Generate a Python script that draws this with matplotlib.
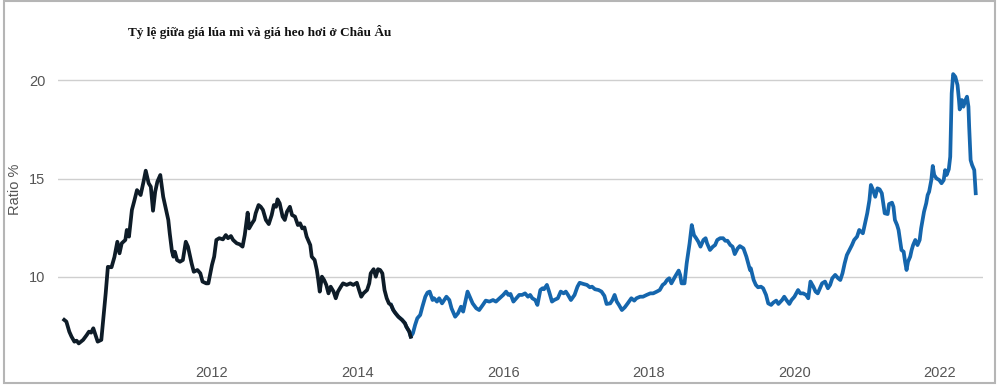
import numpy as np
import matplotlib
matplotlib.use("Agg")
import matplotlib.pyplot as plt
from matplotlib.patches import Rectangle

years = [
    2009.97, 2010.00, 2010.04, 2010.07, 2010.11, 2010.14, 2010.17, 2010.23, 2010.28, 2010.31,
    2010.34, 2010.37, 2010.40, 2010.43, 2010.48, 2010.51, 2010.54, 2010.57, 2010.62, 2010.66,
    2010.70, 2010.73, 2010.76, 2010.81, 2010.83, 2010.86, 2010.90, 2010.93, 2010.97, 2011.02,
    2011.06, 2011.09, 2011.13, 2011.16, 2011.19, 2011.22, 2011.25, 2011.29, 2011.33, 2011.40,
    2011.42, 2011.45, 2011.47, 2011.49, 2011.52, 2011.56, 2011.60, 2011.64, 2011.67, 2011.72,
    2011.75, 2011.80, 2011.84, 2011.87, 2011.92, 2011.95, 2012.00, 2012.03, 2012.06, 2012.10,
    2012.15, 2012.19, 2012.22, 2012.26, 2012.29, 2012.34, 2012.38, 2012.42, 2012.45, 2012.49,
    2012.51, 2012.55, 2012.58, 2012.60, 2012.64, 2012.67, 2012.70, 2012.74, 2012.78, 2012.82,
    2012.85, 2012.88, 2012.90, 2012.93, 2012.97, 2013.00, 2013.03, 2013.07, 2013.10, 2013.14,
    2013.18, 2013.21, 2013.24, 2013.27, 2013.30, 2013.35, 2013.37, 2013.41, 2013.44, 2013.46,
    2013.48, 2013.51, 2013.54, 2013.57, 2013.60, 2013.63, 2013.67, 2013.70, 2013.73, 2013.77,
    2013.80, 2013.85, 2013.90, 2013.94, 2013.99, 2014.02, 2014.05, 2014.08, 2014.13, 2014.16,
    2014.18, 2014.22, 2014.25, 2014.28, 2014.31, 2014.34, 2014.37, 2014.40, 2014.43, 2014.46,
    2014.49, 2014.52, 2014.56, 2014.61, 2014.65, 2014.67, 2014.71, 2014.73, 2014.76, 2014.79,
    2014.82, 2014.86, 2014.89, 2014.93, 2014.96, 2014.99, 2015.03, 2015.05, 2015.09, 2015.12,
    2015.16, 2015.19, 2015.22, 2015.26, 2015.29, 2015.34, 2015.38, 2015.42, 2015.45, 2015.48,
    2015.51, 2015.54, 2015.58, 2015.63, 2015.67, 2015.72, 2015.76, 2015.81, 2015.86, 2015.90,
    2015.95, 2016.00, 2016.04, 2016.07, 2016.10, 2016.14, 2016.18, 2016.22, 2016.26, 2016.30,
    2016.34, 2016.37, 2016.40, 2016.44, 2016.47, 2016.51, 2016.54, 2016.56, 2016.60, 2016.63,
    2016.67, 2016.70, 2016.75, 2016.79, 2016.83, 2016.86, 2016.89, 2016.93, 2016.98, 2017.02,
    2017.05, 2017.10, 2017.15, 2017.19, 2017.22, 2017.26, 2017.31, 2017.35, 2017.39, 2017.42,
    2017.47, 2017.50, 2017.53, 2017.56, 2017.59, 2017.63, 2017.67, 2017.71, 2017.76, 2017.80,
    2017.83, 2017.88, 2017.92, 2017.97, 2018.02, 2018.06, 2018.11, 2018.15, 2018.19, 2018.22,
    2018.25, 2018.28, 2018.31, 2018.36, 2018.41, 2018.43, 2018.45, 2018.49, 2018.52, 2018.56,
    2018.59, 2018.62, 2018.65, 2018.68, 2018.71, 2018.75, 2018.78, 2018.80, 2018.84, 2018.88,
    2018.91, 2018.94, 2018.98, 2019.02, 2019.05, 2019.08, 2019.12, 2019.15, 2019.18, 2019.22,
    2019.25, 2019.30, 2019.34, 2019.37, 2019.39, 2019.40, 2019.44, 2019.47, 2019.50, 2019.54,
    2019.57, 2019.61, 2019.64, 2019.68, 2019.71, 2019.75, 2019.78, 2019.83, 2019.86, 2019.89,
    2019.93, 2019.96, 2020.00, 2020.05, 2020.08, 2020.12, 2020.16, 2020.19, 2020.22, 2020.26,
    2020.29, 2020.32, 2020.35, 2020.38, 2020.42, 2020.46, 2020.49, 2020.52, 2020.56, 2020.60,
    2020.63, 2020.66, 2020.69, 2020.72, 2020.75, 2020.79, 2020.82, 2020.86, 2020.89, 2020.94,
    2020.97, 2021.00, 2021.03, 2021.05, 2021.08, 2021.11, 2021.14, 2021.17, 2021.20, 2021.22,
    2021.24, 2021.28, 2021.30, 2021.34, 2021.36, 2021.38, 2021.41, 2021.43, 2021.45, 2021.47,
    2021.50, 2021.52, 2021.54, 2021.56, 2021.59, 2021.61, 2021.63, 2021.66, 2021.69, 2021.72,
    2021.74, 2021.76, 2021.78, 2021.81, 2021.83, 2021.85, 2021.88, 2021.90, 2021.92, 2021.95,
    2021.99, 2022.02, 2022.05, 2022.07, 2022.09, 2022.12, 2022.14, 2022.15, 2022.16, 2022.18,
    2022.21, 2022.24, 2022.26, 2022.27, 2022.30, 2022.32, 2022.35, 2022.37, 2022.39, 2022.40,
    2022.42, 2022.44, 2022.47, 2022.49,
]

# wheat / live pig price ratio, %
ratio = [
    7.80, 7.71, 7.20, 6.95, 6.69, 6.74, 6.60, 6.78, 7.03, 7.20,
    7.15, 7.37, 7.03, 6.69, 6.78, 7.96, 9.15, 10.50, 10.48, 11.00,
    11.78, 11.19, 11.70, 11.87, 12.38, 12.04, 13.40, 13.82, 14.41, 14.16,
    14.84, 15.40, 14.76, 14.58, 13.36, 14.33, 14.84, 15.18, 14.07, 12.89,
    12.20, 11.30, 11.02, 11.27, 10.85, 10.76, 10.85, 11.78, 11.53, 10.68,
    10.25, 10.34, 10.17, 9.75, 9.66, 9.66, 10.60, 11.02, 11.87, 11.96,
    11.90, 12.12, 11.96, 12.07, 11.87, 11.70, 11.65, 11.53, 12.12, 13.26,
    12.46, 12.72, 12.89, 13.23, 13.65, 13.56, 13.40, 12.89, 12.68, 13.14,
    13.65, 13.56, 13.94, 13.74, 13.06, 12.89, 13.31, 13.56, 13.14, 13.06,
    12.63, 12.72, 12.46, 12.51, 12.04, 11.61, 11.02, 10.85, 10.34, 9.83,
    9.24, 10.00, 9.83, 9.58, 9.15, 9.49, 9.24, 8.90, 9.24, 9.49,
    9.66, 9.58, 9.66, 9.58, 9.69, 9.32, 8.98, 9.15, 9.32, 9.66,
    10.17, 10.38, 10.00, 10.38, 10.34, 10.17, 9.32, 8.90, 8.64, 8.56,
    8.30, 8.14, 7.96, 7.80, 7.63, 7.45, 7.20, 6.94, 7.12, 7.54,
    7.88, 8.05, 8.47, 8.98, 9.19, 9.24, 8.81, 8.90, 8.73, 8.90,
    8.64, 8.81, 8.98, 8.81, 8.39, 7.96, 8.14, 8.47, 8.22, 8.73,
    9.24, 8.98, 8.64, 8.39, 8.30, 8.56, 8.78, 8.73, 8.81, 8.73,
    8.90, 9.07, 9.24, 9.07, 9.12, 8.73, 8.90, 9.07, 9.07, 9.15,
    8.98, 9.07, 8.90, 8.81, 8.56, 9.32, 9.41, 9.36, 9.58, 9.24,
    8.73, 8.81, 8.90, 9.24, 9.15, 9.24, 9.07, 8.81, 9.07, 9.49,
    9.69, 9.63, 9.58, 9.46, 9.49, 9.36, 9.32, 9.24, 9.02, 8.61,
    8.64, 8.81, 9.07, 8.73, 8.56, 8.30, 8.44, 8.64, 8.90, 8.78,
    8.90, 8.98, 8.98, 9.07, 9.15, 9.15, 9.24, 9.32, 9.58, 9.66,
    9.83, 9.92, 9.66, 10.00, 10.31, 10.09, 9.66, 9.66, 10.68, 11.70,
    12.63, 12.12, 11.96, 11.78, 11.53, 11.87, 11.96, 11.70, 11.36, 11.53,
    11.61, 11.87, 11.96, 11.96, 11.83, 11.83, 11.61, 11.53, 11.15, 11.44,
    11.56, 11.44, 11.02, 10.60, 10.34, 10.43, 9.83, 9.58, 9.46, 9.49,
    9.41, 9.07, 8.64, 8.56, 8.68, 8.78, 8.61, 8.81, 8.98, 8.81,
    8.61, 8.81, 8.98, 9.32, 9.15, 9.15, 9.07, 8.90, 9.75, 9.49,
    9.24, 9.15, 9.41, 9.66, 9.75, 9.41, 9.58, 9.92, 10.09, 9.92,
    9.83, 10.17, 10.68, 11.10, 11.32, 11.61, 11.87, 12.04, 12.38, 12.21,
    12.72, 13.23, 13.90, 14.67, 14.41, 14.07, 14.50, 14.45, 14.25, 13.74,
    13.23, 13.19, 13.70, 13.77, 13.56, 12.89, 12.63, 12.38, 11.87, 11.36,
    11.27, 10.76, 10.34, 10.76, 11.02, 11.36, 11.61, 11.87, 11.61, 11.87,
    12.46, 12.89, 13.31, 13.74, 14.16, 14.33, 14.92, 15.64, 15.18, 15.01,
    14.92, 14.76, 14.92, 15.43, 15.18, 15.47, 16.11, 17.64, 19.34, 20.32,
    20.18, 19.76, 19.00, 18.52, 19.00, 18.66, 19.00, 19.17, 18.66, 17.64,
    15.94, 15.69, 15.43, 14.25,
]

# the line changes colour late in 2014
dark_until = 2014.73
blue_from = 2014.46
yticks = [10, 15, 20]
xticks = [2012, 2014, 2016, 2018, 2020, 2022]

years = np.array(years)
ratio = np.array(ratio)

fig = plt.figure(figsize=(10, 3.87), dpi=100)
ax = fig.add_axes([0.058, 0.0827, 0.925, 0.775])

blue = years >= blue_from
dark = years <= dark_until
ax.plot(years[blue], ratio[blue], color="#1566ad", lw=2.7, solid_joinstyle="round")
ax.plot(years[dark], ratio[dark], color="#0e1c28", lw=2.7, solid_joinstyle="round")

ax.set_xlim(2009.885, 2022.59)
ax.set_ylim(6.01, 21.29)
ax.set_yticks(yticks)
ax.set_xticks(xticks)
ax.set_xticklabels([str(t) for t in xticks])
ax.grid(axis="y", color="#cfcfcf", lw=1)
ax.set_axisbelow(True)
for s in ax.spines.values():
    s.set_visible(False)
ax.tick_params(length=0, labelsize=10.5, labelcolor="#555555")
ax.tick_params(axis="y", pad=9)
ax.tick_params(axis="x", pad=8)
for lab in ax.get_xticklabels() + ax.get_yticklabels():
    lab.set_family("Liberation Sans")

fig.text(0.015, 0.51, "Ratio %", rotation=90, ha="center", va="center",
         fontsize=10.5, color="#555555", family="Liberation Sans")
fig.text(0.26, 1 - 32 / 387, "Tỷ lệ giữa giá lúa mì và giá heo hơi ở Châu Âu",
         ha="center", va="center", fontsize=9.5, fontweight="bold",
         family="Liberation Serif", color="#111111")

fig.patches.append(Rectangle((0.004, 0.01), 0.991, 0.987, transform=fig.transFigure,
                             fill=False, edgecolor="#b5b5b5", lw=1.5))

fig.savefig("out.png", dpi=100)
